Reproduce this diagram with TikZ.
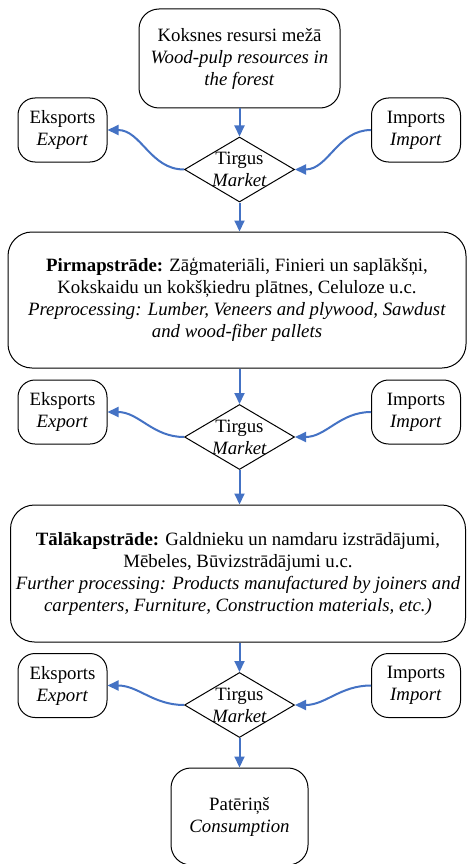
\documentclass[tikz,border=0pt]{standalone}
\usepackage{fontspec}
\setmainfont{Liberation Serif}
\usetikzlibrary{shapes.geometric,arrows.meta}
\definecolor{flowblue}{HTML}{4472C4}
\begin{document}
\begin{tikzpicture}[x=1pt,y=-1pt,
  every node/.style={font=\fontsize{18.8}{22}\selectfont, align=center},
  rbox/.style={draw=black, line width=1pt, rounded corners=20pt, inner sep=0pt},
  sidebox/.style={rbox, rounded corners=17pt, minimum width=89pt, minimum height=64pt},
  bigbox/.style={rbox, rounded corners=24pt},
  market/.style={draw=black, line width=1pt, diamond, inner sep=0pt,
    minimum width=110pt, minimum height=65pt},
  lbl/.style={inner sep=0pt},
  flow/.style={draw=flowblue, line width=2pt,
    -{Triangle[length=11pt,width=10pt]}}]
\useasboundingbox (0,0) rectangle (466,864);

% source of the chain
\node[rbox, minimum width=201pt, minimum height=99pt] (forest) at (239.5,58.5)
  {Koksnes resursi mežā\\\textit{Wood-pulp resources in}\\\textit{the forest}};

% first market level
\node[sidebox] (exp1) at (62.5,130) {Eksports\\\textit{Export}};
\node[sidebox] (imp1) at (416,130) {Imports\\\textit{Import}};
\node[market] (m1) at (239.5,169.5) {};
\node[lbl] (m1t) at (239.5,169.5) {Tirgus\\\textit{Market}};

% primary processing
\node[bigbox, minimum width=458pt, minimum height=136pt] (pre) at (237,300)
  {\textbf{Pirmapstrāde:} Zāģmateriāli, Finieri un saplākšņi,\\
   Kokskaidu un kokšķiedru plātnes, Celuloze u.c.\\
   \textit{Preprocessing: Lumber, Veneers and plywood, Sawdust}\\
   \textit{and wood-fiber pallets}};

% second market level
\node[sidebox] (exp2) at (62.5,412) {Eksports\\\textit{Export}};
\node[sidebox] (imp2) at (416,412) {Imports\\\textit{Import}};
\node[market] (m2) at (239.5,437) {};
\node[lbl] (m2t) at (239.5,437) {Tirgus\\\textit{Market}};

% further processing
\node[bigbox, minimum width=455pt, minimum height=137pt] (fur) at (238,573.5)
  {\textbf{Tālākapstrāde:} Galdnieku un namdaru izstrādājumi,\\
   Mēbeles, Būvizstrādājumi u.c.\\
   \textit{Further processing: Products manufactured by joiners and}\\
   \textit{carpenters, Furniture, Construction materials, etc.)}};

% third market level
\node[sidebox] (exp3) at (62.5,685.5) {Eksports\\\textit{Export}};
\node[sidebox] (imp3) at (416,685.5) {Imports\\\textit{Import}};
\node[market] (m3) at (239.5,705) {};
\node[lbl] (m3t) at (239.5,705) {Tirgus\\\textit{Market}};

% end of the chain
\node[rbox, minimum width=137pt, minimum height=97pt] (cons) at (239.5,816.5)
  {Patēriņš\\\textit{Consumption}};

% main flow, kept on the common vertical axis
\draw[flow] (forest.south) -- (m1.north);
\draw[flow] (m1.south) -- (m1.south |- pre.north);
\draw[flow] (m2.north |- pre.south) -- (m2.north);
\draw[flow] (m2.south) -- (m2.south |- fur.north);
\draw[flow] (m3.north |- fur.south) -- (m3.north);
\draw[flow] (m3.south) -- (cons.north);

% trade flows
\draw[flow] (m1.west) to[out=180,in=0] (exp1.east);
\draw[flow] (imp1.west) to[out=180,in=0] (m1.east);
\draw[flow] (m2.west) to[out=180,in=0] (exp2.east);
\draw[flow] (imp2.west) to[out=180,in=0] (m2.east);
\draw[flow] (m3.west) to[out=180,in=0] (exp3.east);
\draw[flow] (imp3.west) to[out=180,in=0] (m3.east);
\end{tikzpicture}
\end{document}
